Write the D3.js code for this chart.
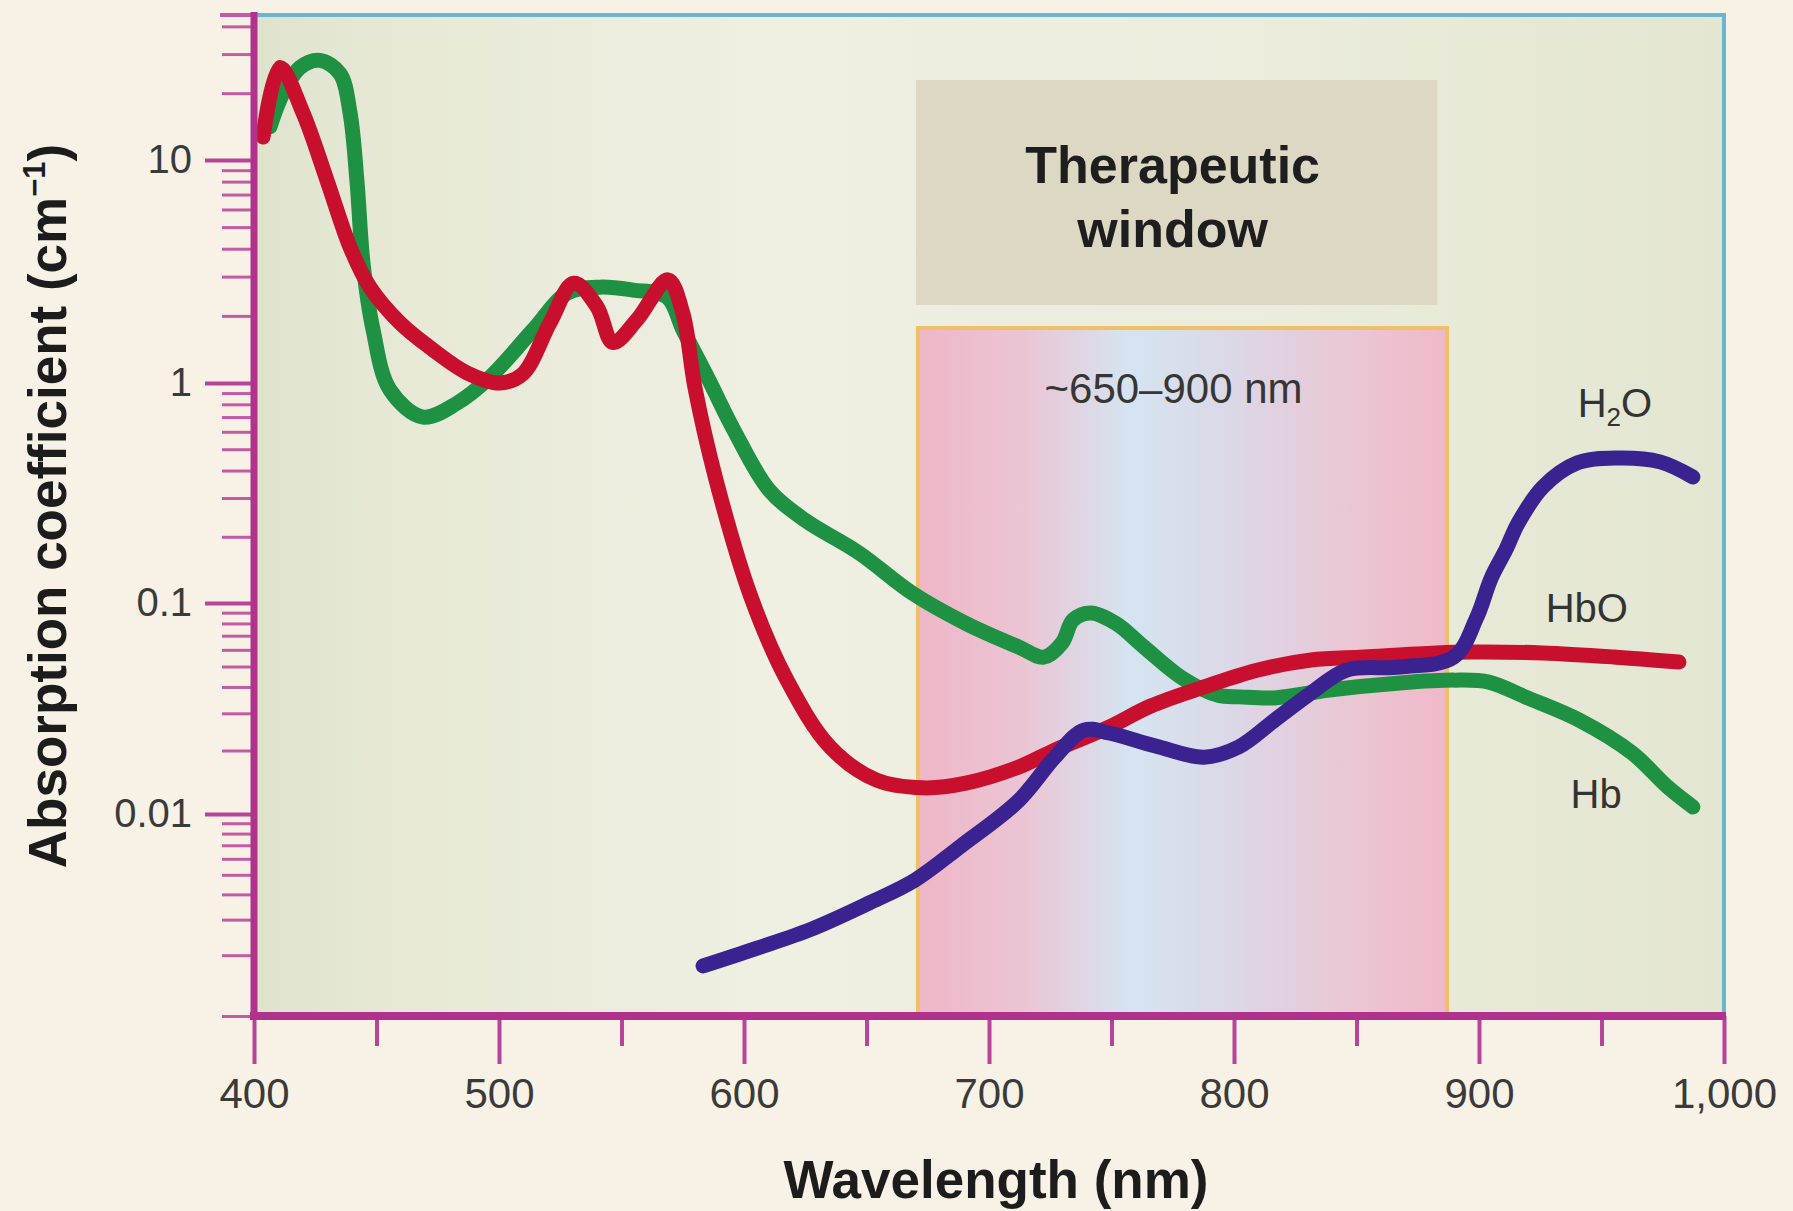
<!DOCTYPE html>
<html>
<head>
<meta charset="utf-8">
<script src="https://cdn.jsdelivr.net/npm/d3@7"></script>
<style>
  html, body { margin: 0; padding: 0; background: #f8f2e6; }
  svg { display: block; font-family: "Liberation Sans", Arial, sans-serif; }
</style>
</head>
<body>
<svg id="chart"></svg>
<script>
// absorption spectra: [wavelength nm, coefficient cm^-1]
const hb = [
  [406.5, 14.1], [411.8, 20], [418.8, 26.1], [426.9, 28.1], [435.1, 24.5], [439.2, 16.3],
  [442, 8.1], [444.5, 3.45], [448.6, 1.73], [455.5, 0.93], [469, 0.70], [482.9, 0.81],
  [496.3, 1.06], [513.9, 1.73], [527.8, 2.53], [541.2, 2.69], [554.7, 2.61], [568.6, 2.43],
  [575.1, 1.73], [585.7, 1.03], [595.9, 0.61], [610.2, 0.327], [624.9, 0.238], [646.9, 0.169],
  [668.6, 0.111], [690.6, 0.080], [712.2, 0.0618], [722.4, 0.0554], [729.8, 0.0646],
  [734.3, 0.083], [741.6, 0.0897], [751.8, 0.080], [763.3, 0.0618], [779, 0.044],
  [793.5, 0.0365], [802.4, 0.0359], [816.7, 0.0355], [838.8, 0.0387], [867.8, 0.0418],
  [889.8, 0.0431], [904, 0.0422], [918.8, 0.0359], [940.8, 0.0279], [962.4, 0.0195],
  [977.1, 0.0134], [987.3, 0.0108]
];
const hbo = [
  [403.7, 12.7], [410.6, 26.1], [420, 16.3], [429.8, 8.1], [439.2, 4.07], [447.3, 2.69],
  [459.6, 1.86], [473, 1.41], [487, 1.11], [500.4, 1.0], [509.8, 1.1], [520.8, 1.86],
  [530.5, 2.8], [540, 2.2], [546.5, 1.52], [556.3, 1.92], [569, 2.9], [575, 2.06],
  [580, 0.95], [588.6, 0.362], [602.9, 0.106], [617.6, 0.043], [635.1, 0.0208],
  [653.9, 0.0145], [673.1, 0.0133], [690.6, 0.014], [712.2, 0.0167], [726.9, 0.0201],
  [749, 0.0258], [766, 0.0325], [787.8, 0.040], [809.4, 0.048], [831.4, 0.0537],
  [853, 0.0555], [882.4, 0.058], [896.7, 0.0586], [926, 0.058], [955, 0.0555], [981.6, 0.0525]
];
const h2o = [
  [583.3, 0.00177], [604.5, 0.00215], [627.8, 0.0027], [651, 0.00362], [669.8, 0.00471],
  [688.6, 0.00695], [712.2, 0.0116], [726.9, 0.0186], [738.8, 0.025], [749, 0.0242],
  [768, 0.021], [787.8, 0.0186], [802, 0.0208], [816.7, 0.0279], [831.4, 0.0374],
  [845.7, 0.048], [867.8, 0.0497], [889.8, 0.0555], [899, 0.085], [905, 0.13],
  [911, 0.175], [916, 0.231], [926.1, 0.337], [940, 0.433], [956.3, 0.456],
  [973.9, 0.438], [987.3, 0.374]
];

const seriesNames = ["Hb", "HbO", "H2O"];
const seriesColors = ["#1f9142", "#c8102e", "#3a2390"];

const xTicks = [400, 500, 600, 700, 800, 900, 1000];
const xMinorTicks = [450, 550, 650, 750, 850, 950];
const yTicks = [0.01, 0.1, 1, 10];
const yTickLabels = ["0.01", "0.1", "1", "10"];

const windowRange = [671, 887];          // pink band, nm
const windowLabel = "~650–900 nm";
const windowTitle = ["Therapeutic", "window"];

// curve labels: [name, nm, value]
const curveLabels = [["H2O", 955.5, 0.70], ["HbO", 944, 0.081], ["Hb", 947.8, 0.0107]];

const W = 1793, H = 1211;
const pLeft = 254, pRight = 1724, pTop = 15, pBottom = 1016;

const svg = d3.select("#chart").attr("width", W).attr("height", H);

const x = d3.scaleLinear().domain([400, 1000]).range([pLeft, pRight]);
// the printed log axis is hand drawn, decades are not evenly spaced
const y = d3.scaleLog()
  .domain([0.001, 0.01, 0.1, 1, 10, 45])
  .range([pBottom, 814, 603, 383, 160, pTop]);

const defs = svg.append("defs");
const bg = defs.append("linearGradient").attr("id", "plotbg");
[["0%", "#dfe3cd"], ["10%", "#e7e9d6"], ["35%", "#efefe2"], ["70%", "#ebecdc"], ["100%", "#e3e6d1"]]
  .forEach(([o, c]) => bg.append("stop").attr("offset", o).attr("stop-color", c));
const pink = defs.append("linearGradient").attr("id", "pinkband");
[["0%", "#efb6c7"], ["20%", "#ebc5d4"], ["40%", "#d5e4f1"], ["60%", "#dcd7e6"], ["85%", "#ecc4d2"], ["100%", "#f0b8c8"]]
  .forEach(([o, c]) => pink.append("stop").attr("offset", o).attr("stop-color", c));

svg.append("rect")
  .attr("x", pLeft).attr("y", pTop)
  .attr("width", pRight - pLeft).attr("height", pBottom - pTop)
  .attr("fill", "url(#plotbg)");

// therapeutic window title box
const boxX0 = x(windowRange[0]) - 2, boxX1 = x(883);
svg.append("rect")
  .attr("x", boxX0).attr("y", 80)
  .attr("width", boxX1 - boxX0).attr("height", 225)
  .attr("fill", "#ddd8c3");

svg.append("text")
  .attr("text-anchor", "middle")
  .attr("font-size", 52).attr("font-weight", "bold").attr("fill", "#1e1e1e")
  .selectAll("tspan").data(windowTitle).join("tspan")
    .attr("x", (boxX0 + boxX1) / 2 - 4)
    .attr("y", (d, i) => 183 + i * 64)
    .text(d => d);

// pink band
svg.append("rect")
  .attr("x", x(windowRange[0])).attr("y", 328)
  .attr("width", x(windowRange[1]) - x(windowRange[0]))
  .attr("height", pBottom - 328)
  .attr("fill", "url(#pinkband)")
  .attr("stroke", "#eec068").attr("stroke-width", 4);

svg.append("text")
  .attr("x", (x(windowRange[0]) + x(windowRange[1])) / 2 - 9).attr("y", 403)
  .attr("text-anchor", "middle").attr("font-size", 42).attr("fill", "#363636")
  .text(windowLabel);

// blue frame top and right
svg.append("path")
  .attr("d", `M${pLeft},${pTop}H${pRight}V${pBottom}`)
  .attr("fill", "none").attr("stroke", "#68b6d0").attr("stroke-width", 4);

// curves
const line = d3.line()
  .x(d => x(d[0]))
  .y(d => y(d[1]))
  .curve(d3.curveCatmullRom.alpha(0.5));

[hb, hbo, h2o].forEach((data, i) => {
  svg.append("path")
    .datum(data)
    .attr("class", seriesNames[i])
    .attr("d", line)
    .attr("fill", "none")
    .attr("stroke", seriesColors[i])
    .attr("stroke-width", 15)
    .attr("stroke-linecap", "round")
    .attr("stroke-linejoin", "round");
});

// curve labels
curveLabels.forEach(([name, nm, v]) => {
  const t = svg.append("text")
    .attr("x", x(nm)).attr("y", y(v))
    .attr("text-anchor", "middle").attr("font-size", 40).attr("fill", "#333");
  if (name === "H2O") {
    t.append("tspan").text("H");
    t.append("tspan").attr("font-size", 26).attr("dy", 9).text("2");
    t.append("tspan").attr("dy", -9).text("O");
  } else {
    t.text(name);
  }
});

// y axis ticks
const axisColor = "#b1328c";
const yMinor = [];
for (let p = -3; p <= 1; p++) {
  for (let k = 1; k <= 9; k++) {
    const v = k * Math.pow(10, p);
    if (v <= 45 && !yTicks.includes(v)) yMinor.push(v);
  }
}

const yMinorAxis = svg.append("g")
  .attr("transform", `translate(${pLeft},0)`)
  .call(d3.axisLeft(y).tickValues(yMinor).tickSize(32).tickFormat(""));
yMinorAxis.select(".domain").remove();
yMinorAxis.selectAll("line").attr("stroke", "#c35aa3").attr("stroke-width", 3);

const yAxis = svg.append("g")
  .attr("transform", `translate(${pLeft},0)`)
  .call(d3.axisLeft(y).tickValues(yTicks).tickSize(49).tickPadding(13)
    .tickFormat((d, i) => yTickLabels[i]));
yAxis.select(".domain").remove();
yAxis.selectAll("line").attr("stroke", "#b8449a").attr("stroke-width", 4);
yAxis.selectAll("text").attr("font-size", 40).attr("fill", "#3a3a3a")
  .attr("font-family", "'Liberation Sans', Arial, sans-serif");

// top end tick
svg.append("line")
  .attr("x1", pLeft - 34).attr("x2", pLeft)
  .attr("y1", y(45)).attr("y2", y(45))
  .attr("stroke", "#c35aa3").attr("stroke-width", 4);

// x axis ticks
const xMinorAxis = svg.append("g")
  .attr("transform", `translate(0,${pBottom})`)
  .call(d3.axisBottom(x).tickValues(xMinorTicks).tickSize(30).tickFormat(""));
xMinorAxis.select(".domain").remove();
xMinorAxis.selectAll("line").attr("stroke", "#b8449a").attr("stroke-width", 4);

const xAxis = svg.append("g")
  .attr("transform", `translate(0,${pBottom})`)
  .call(d3.axisBottom(x).tickValues(xTicks).tickSize(48).tickPadding(14)
    .tickFormat(d3.format(",")));
xAxis.select(".domain").remove();
xAxis.selectAll("line").attr("stroke", "#b8449a").attr("stroke-width", 4);
xAxis.selectAll("text").attr("font-size", 42).attr("fill", "#3a3a3a")
  .attr("font-family", "'Liberation Sans', Arial, sans-serif");

// magenta axis lines
svg.append("line")
  .attr("x1", pLeft).attr("x2", pLeft).attr("y1", pTop - 3).attr("y2", pBottom + 4)
  .attr("stroke", axisColor).attr("stroke-width", 7);
svg.append("line")
  .attr("x1", pLeft - 4).attr("x2", pRight + 2).attr("y1", pBottom).attr("y2", pBottom)
  .attr("stroke", axisColor).attr("stroke-width", 8);

// axis titles
svg.append("text")
  .attr("x", 996).attr("y", 1198)
  .attr("text-anchor", "middle").attr("font-size", 53).attr("font-weight", "bold")
  .attr("fill", "#1c1c1c")
  .text("Wavelength (nm)");

const yTitle = svg.append("text")
  .attr("transform", "translate(66,506) rotate(-90)")
  .attr("text-anchor", "middle").attr("font-size", 53).attr("font-weight", "bold")
  .attr("fill", "#1c1c1c");
yTitle.append("tspan").text("Absorption coefficient (cm");
yTitle.append("tspan").attr("font-size", 31).attr("dy", -21).text("−1");
yTitle.append("tspan").attr("dy", 21).text(")");
</script>
</body>
</html>
